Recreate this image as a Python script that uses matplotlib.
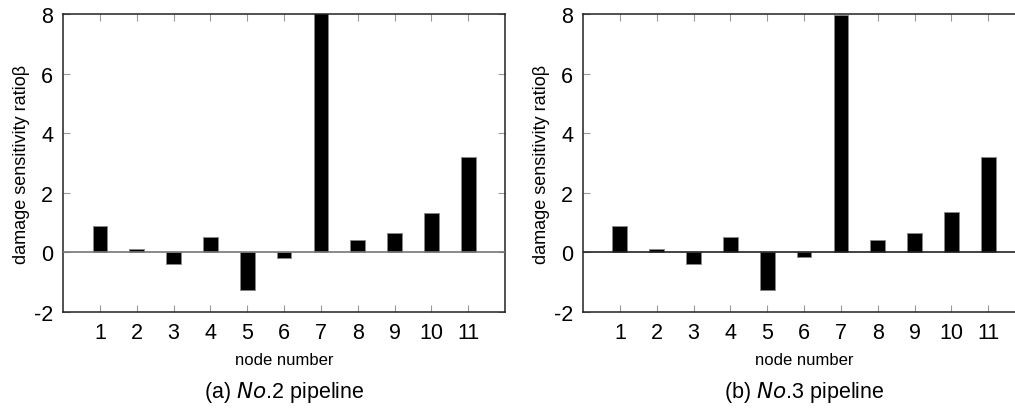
import matplotlib.pyplot as plt

plt.rcParams['font.family'] = ['Liberation Sans', 'DejaVu Sans']
plt.rcParams['axes.unicode_minus'] = False

nodes = [1, 2, 3, 4, 5, 6, 7, 8, 9, 10, 11]
beta_no2 = [0.87, 0.12, -0.40, 0.52, -1.27, -0.19, 8.3, 0.40, 0.64, 1.33, 3.20]
beta_no3 = [0.87, 0.12, -0.40, 0.53, -1.27, -0.17, 7.95, 0.40, 0.64, 1.34, 3.20]
captions = ["(a) $\\it{No}$.2 pipeline", "(b) $\\it{No}$.3 pipeline"]
yticks = [-2, 0, 2, 4, 6, 8]

fig = plt.figure(figsize=(10.15, 4.10), dpi=100)
ax1 = fig.add_axes([0.0621, 0.2366, 0.4355, 0.7268])
ax2 = fig.add_axes([0.5744, 0.2366, 0.4355, 0.7268])

for ax, vals, cap, zc in [(ax1, beta_no2, captions[0], '#777777'),
                          (ax2, beta_no3, captions[1], '#222222')]:
    ax.bar(nodes, vals, width=0.4, color='black', edgecolor='#888888', linewidth=0.6, zorder=2)
    ax.axhline(0, color=zc, linewidth=1.2, zorder=3)
    ax.set_xlim(0, 12)
    ax.set_ylim(-2, 8)
    ax.set_xticks(nodes)
    ax.set_yticks(yticks)
    ax.tick_params(direction='in', length=5, width=0.8, color='#999999',
                   top=True, right=True, labelsize=15.5, pad=7)
    for sp in ax.spines.values():
        sp.set_color('#222222')
        sp.set_linewidth(1.1)
    ax.set_xlabel("node number", fontsize=12, labelpad=7)
    ax.set_ylabel("damage sensitivity ratioβ", fontsize=13, labelpad=3)
    ax.text(0.5, -0.268, cap, transform=ax.transAxes, ha='center', va='center',
            fontsize=15.5)

fig.savefig("out.png", dpi=100)
